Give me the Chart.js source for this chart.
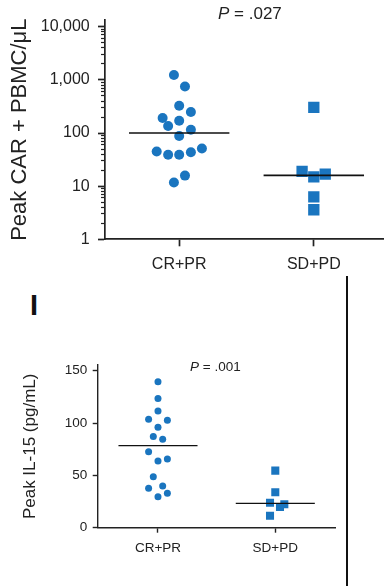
<!DOCTYPE html>
<html><head><meta charset="utf-8">
<script src="https://cdn.jsdelivr.net/npm/chart.js@4"></script>
<style>
html,body{margin:0;padding:0;background:#fff;}
body{width:391px;height:586px;position:relative;overflow:hidden;font-family:"Liberation Sans",Arial,sans-serif;color:#222;}
canvas{position:absolute;left:0;}
#c1{top:0}
#c2{top:340px}
.pval{position:absolute;white-space:nowrap;color:#222;}
</style></head><body>
<canvas id="c1" width="391" height="280"></canvas>
<canvas id="c2" width="391" height="246"></canvas>
<div class="pval" id="p1" style="left:218px;top:5px;font-size:17px;line-height:17px;"></div>
<div class="pval" id="p2" style="left:190px;top:360px;font-size:13.5px;line-height:13.5px;"></div>
<div id="panel" style="position:absolute;left:30px;top:291px;font-size:29px;line-height:29px;font-weight:bold;color:#111;"></div>
<div style="position:absolute;left:346px;top:276px;width:1.5px;height:310px;background:#111;"></div>
<script>
// ---- data ----
const categories = ['CR+PR', 'SD+PD'];
const pValues = ['.027', '.001'];
const panelLabel = 'I';

// Panel 1: Peak CAR+ PBMC/µL (log)
const carCR = [1230, 750, 325, 248, 192, 170, 135, 115, 88, 51, 45, 43.5, 39, 39, 15.8, 11.7];
const carCRJitter = [-0.039, 0.043, 0, 0.087, -0.123, 0, -0.082, 0.087, 0, 0.169, -0.167, 0.087, -0.082, 0, 0.043, -0.039];
const carSD = [303, 19, 15, 16.8, 6.3, 3.6];
const carSDJitter = [0, -0.087, 0, 0.085, 0, 0];
const carMedians = [100, 15.9];
const carTicks = [1, 10, 100, 1000, 10000];
const carMinorTicks = [2,3,4,5,6,7,8,9,20,30,40,50,60,70,80,90,200,300,400,500,600,700,800,900,2000,3000,4000,5000,6000,7000,8000,9000];

// Panel 2: Peak IL-15 (pg/mL)
const ilCR = [139.5, 123.3, 111.5, 103.5, 102.6, 95.9, 87, 84.4, 72.6, 63.7, 65.6, 48.7, 37.6, 39.8, 32.8, 29.6];
const ilCRJitter = [0, 0, 0, -0.08, 0.08, 0, -0.04, 0.04, -0.08, 0, 0.08, -0.04, -0.08, 0.04, 0.08, 0];
const ilSD = [54.5, 33.8, 23.9, 22.4, 19.8, 11.5];
const ilSDJitter = [0, 0, -0.045, 0.077, 0.04, -0.045];
const ilMedians = [78.3, 23.2];
const ilTicks = [0, 50, 100, 150];

// ---- text ----
document.getElementById('p1').innerHTML = '<i>P</i> = ' + pValues[0];
document.getElementById('p2').innerHTML = '<i>P</i> = ' + pValues[1];
document.getElementById('panel').textContent = panelLabel;

// ---- helpers ----
const BLUE = '#1a75bf', INK = '#222';
Chart.defaults.font.family = '"Liberation Sans", Arial, sans-serif';
Chart.defaults.color = INK;

function pts(cat, vals, jit) { return vals.map((v, i) => ({ x: cat + jit[i], y: v })); }
function medianDs(cat, m, hw, w) {
  return { type: 'line', data: [{ x: cat - hw, y: m }, { x: cat + hw, y: m }], borderColor: '#111', borderWidth: w, pointRadius: 0, showLine: true, fill: false };
}
function catTicks(s) { s.ticks = categories.map((c, i) => ({ value: i })); }

// ---- chart 1 ----
new Chart(document.getElementById('c1'), {
  type: 'scatter',
  data: { datasets: [
    medianDs(0, carMedians[0], 0.373, 1.7),
    medianDs(1, carMedians[1], 0.373, 1.7),
    { data: pts(0, carCR, carCRJitter), pointStyle: 'circle', pointRadius: 5, backgroundColor: BLUE, borderWidth: 0 },
    { data: pts(1, carSD, carSDJitter), pointStyle: 'rect', pointRadius: 8, backgroundColor: BLUE, borderWidth: 0 }
  ]},
  options: {
    responsive: false, animation: false, devicePixelRatio: 1,
    layout: { padding: { top: 20, right: 1, left: 0, bottom: 0 } },
    plugins: { legend: { display: false }, tooltip: { enabled: false } },
    scales: {
      x: {
        type: 'linear', min: -0.551, max: 1.514,
        afterBuildTicks: catTicks,
        ticks: { callback: v => categories[v], font: { size: 16 }, color: INK, padding: 8.3, maxRotation: 0, autoSkip: false },
        grid: { drawOnChartArea: false, tickLength: 7, tickColor: INK, tickWidth: 1.7 },
        border: { display: true, color: INK, width: 1.7 },
        afterFit: s => { s.height = 40.7; }
      },
      y: {
        type: 'logarithmic', min: 1, max: 13370, weight: 1, position: 'left',
        afterBuildTicks: s => { s.ticks = carTicks.map(v => ({ value: v })); },
        ticks: { callback: v => Number(v).toLocaleString('en-US'), font: { size: 16 }, color: INK, padding: 8.3, autoSkip: false },
        grid: { drawOnChartArea: false, tickLength: 7, tickColor: INK, tickWidth: 1.7 },
        border: { display: true, color: INK, width: 1.7 },
        title: { display: true, text: 'Peak CAR + PBMC/\u03bcL', font: { size: 22 }, color: INK, padding: { top: 6.5, bottom: 0 } },
        afterFit: s => { s.width = 105; }
      },
      yMinor: {
        type: 'logarithmic', min: 1, max: 13370, weight: 0, position: 'left',
        afterBuildTicks: s => { s.ticks = carMinorTicks.map(v => ({ value: v })); },
        ticks: { display: false, autoSkip: false },
        grid: { drawOnChartArea: false, tickLength: 4, tickColor: INK, tickWidth: 1.2 },
        border: { display: false },
        afterFit: s => { s.width = 0; }
      }
    }
  }
});

// ---- chart 2 ----
new Chart(document.getElementById('c2'), {
  type: 'scatter',
  data: { datasets: [
    medianDs(0, ilMedians[0], 0.337, 1.3),
    medianDs(1, ilMedians[1], 0.337, 1.3),
    { data: pts(0, ilCR, ilCRJitter), pointStyle: 'circle', pointRadius: 3.5, backgroundColor: BLUE, borderWidth: 0 },
    { data: pts(1, ilSD, ilSDJitter), pointStyle: 'rect', pointRadius: 5.7, backgroundColor: BLUE, borderWidth: 0 }
  ]},
  options: {
    responsive: false, animation: false, devicePixelRatio: 1,
    layout: { padding: { top: 25, right: 56, left: 0, bottom: 0 } },
    plugins: { legend: { display: false }, tooltip: { enabled: false } },
    scales: {
      x: {
        type: 'linear', min: -0.514, max: 1.509,
        afterBuildTicks: catTicks,
        ticks: { callback: v => categories[v], font: { size: 13.5 }, color: INK, padding: 7.6, maxRotation: 0, autoSkip: false },
        grid: { drawOnChartArea: false, tickLength: 5, tickColor: INK, tickWidth: 1.4 },
        border: { display: true, color: INK, width: 1.4 },
        afterFit: s => { s.height = 58.3; }
      },
      y: {
        type: 'linear', min: 0, max: 155.4,
        afterBuildTicks: s => { s.ticks = ilTicks.map(v => ({ value: v })); },
        ticks: { font: { size: 13.5 }, color: INK, padding: 5.4, autoSkip: false },
        grid: { drawOnChartArea: false, tickLength: 5, tickColor: INK, tickWidth: 1.4 },
        border: { display: true, color: INK, width: 1.4 },
        title: { display: true, text: 'Peak IL-15 (pg/mL)', font: { size: 17 }, color: INK, padding: { top: 19.8, bottom: 0 } },
        afterFit: s => { s.width = 97.7; }
      }
    }
  }
});
</script>
</body></html>
